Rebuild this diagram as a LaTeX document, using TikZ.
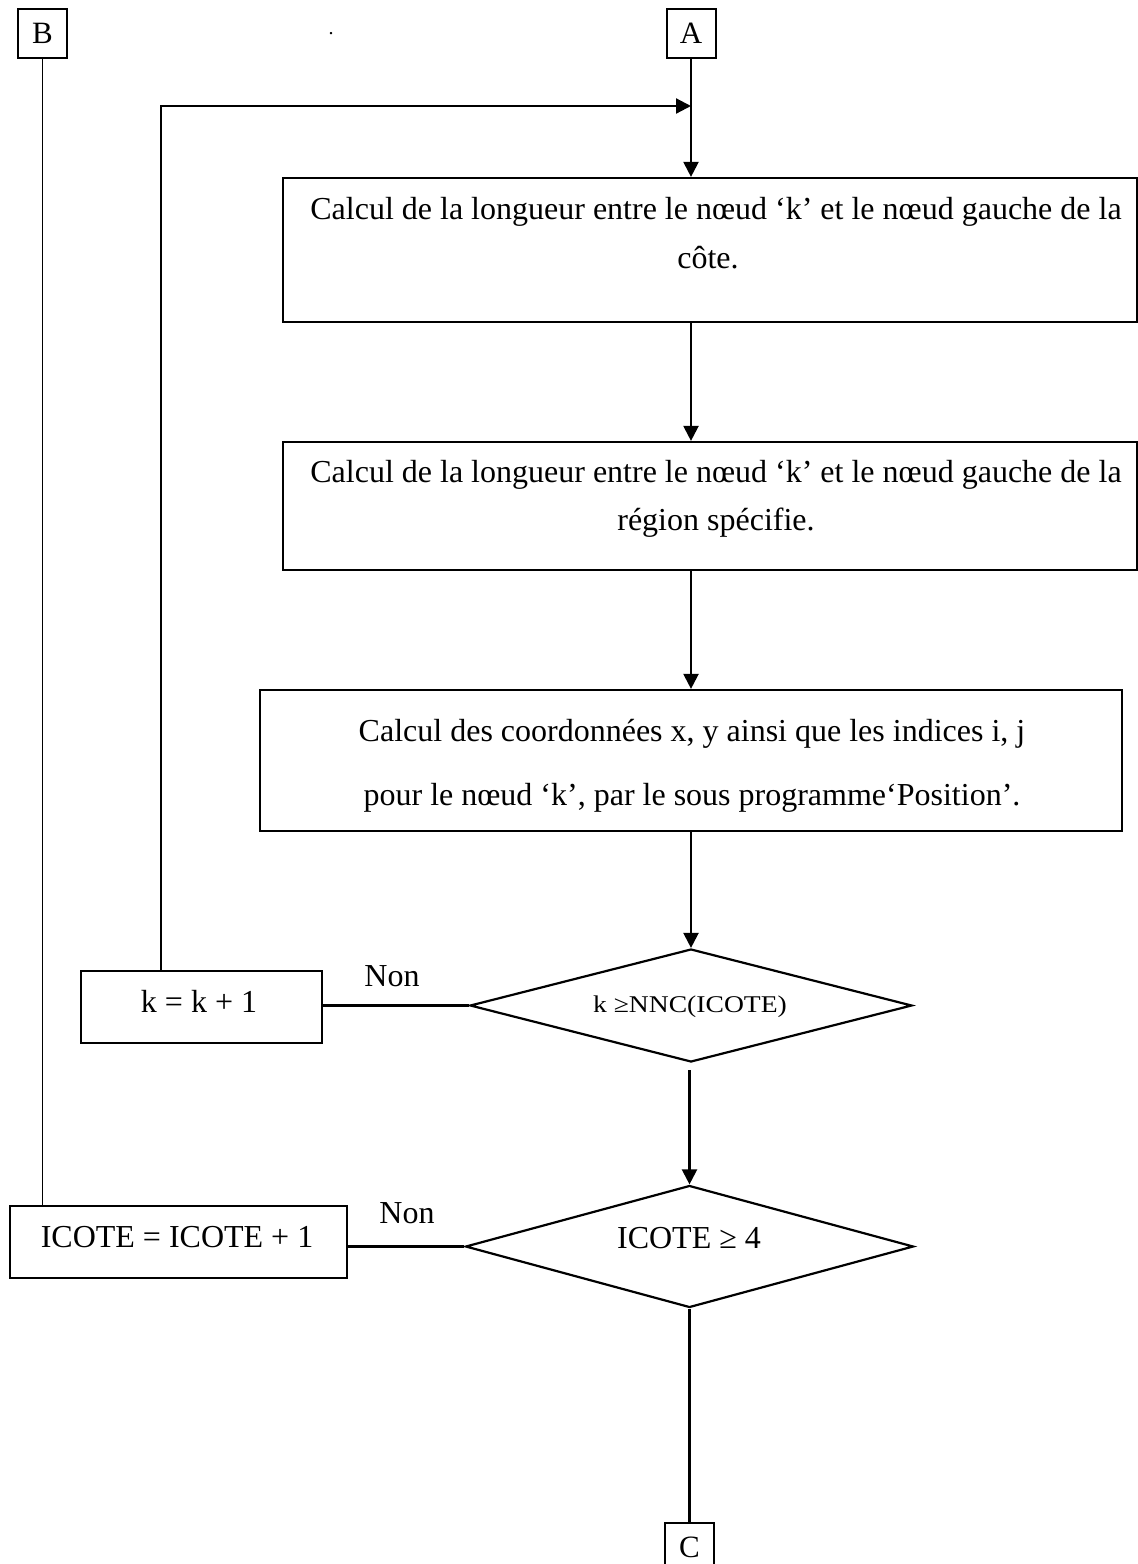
\documentclass[tikz,border=0pt]{standalone}
\usepackage{fontspec}
\usepackage{graphicx}
\setmainfont{Liberation Serif}
\usetikzlibrary{arrows.meta,shapes.geometric}
\begin{document}
\begin{tikzpicture}[x=1pt,y=-1pt,
  every node/.style={font=\fontsize{32}{48}\selectfont},
  stepbox/.style={draw,line width=2.2pt,rectangle,inner sep=0pt},
  terminal/.style={draw,line width=2pt,rectangle,minimum width=49pt,minimum height=49pt,inner sep=0pt,font=\fontsize{31}{36}\selectfont},
  test/.style={draw,line width=2.2pt,diamond,inner sep=0pt},
  txt/.style={anchor=base,inner sep=0pt},
  flow/.style={line width=2.2pt},
  arr/.style={flow,-{Triangle[length=15pt,width=15pt]}},
]
\clip (0,0) rectangle (1138,1564);

% connectors to other pages
\node[terminal] (B) at (42.5,33.7) {B};
\node[terminal] (A) at (691,33.7) {A};
\node[terminal] (C) at (689.5,1547.5) {C};
\node[txt,font=\fontsize{20}{24}\selectfont] (dot) at (331,34) {.};

% processing steps
\node[stepbox,minimum width=854pt,minimum height=144pt] (box1) at (710,250) {};
\node[txt] (b1a) at (716,219) {Calcul de la longueur entre le nœud ‘k’ et le nœud gauche de la};
\node[txt] (b1b) at (708,268) {côte.};

\node[stepbox,minimum width=854pt,minimum height=128pt] (box2) at (710,506) {};
\node[txt] (b2a) at (716,482) {Calcul de la longueur entre le nœud ‘k’ et le nœud gauche de la};
\node[txt] (b2b) at (716,530) {région spécifie.};

\node[stepbox,minimum width=862pt,minimum height=141pt] (box3) at (691,760.5) {};
\node[txt] (b3a) at (692,741) {Calcul des coordonnées x, y ainsi que les indices i, j};
\node[txt] (b3b) at (692,805) {pour le nœud ‘k’, par le sous programme‘Position’.};

% tests
\node[test,minimum width=442pt,minimum height=113pt] (d1) at (691,1005.5) {};
\node[txt] (d1t) at (690,1012) {\scalebox{1.15}[1]{\fontsize{24}{28}\selectfont k ≥NNC(ICOTE)}};

\node[test,minimum width=448pt,minimum height=122pt] (d2) at (689.5,1246.5) {};
\node[txt] (d2t) at (689,1248) {ICOTE ≥ 4};

% counters
\node[stepbox,minimum width=241pt,minimum height=72pt] (kbox) at (201.5,1007) {};
\node[txt] (kt) at (199,1012) {k = k + 1};

\node[stepbox,minimum width=337pt,minimum height=72pt] (ibox) at (178.5,1242) {};
\node[txt] (it) at (177,1247) {ICOTE = ICOTE + 1};

% branch labels
\node[txt] (non1) at (392,986.7) {Non};
\node[txt] (non2) at (407,1223) {Non};

% main flow
\coordinate (loopT) at (161,106);
\coordinate (loopJ) at (691,106);
\draw[arr] (A.south) -- (A.south |- box1.north);
\draw[arr] (box1.south -| A) -- (box2.north -| A);
\draw[arr] (box2.south -| A) -- (box3.north -| A);
\draw[arr] (box3.south -| A) -- (d1.north);
\draw[arr] ([yshift=-7pt]d1.south -| d2.north) -- (d2.north);
\draw[flow] (d2.south) -- (d2.south |- C.north);

% loops back
\draw[flow] (d1.west -| kbox.east) -- (d1.west);
\draw[arr] (kbox.north -| loopT) -- (loopT) -- (loopJ);
\draw[flow] (d2.west -| ibox.east) -- (d2.west);
\draw[line width=1.8pt] (B.south) -- (B.south |- ibox.north);
\end{tikzpicture}
\end{document}
